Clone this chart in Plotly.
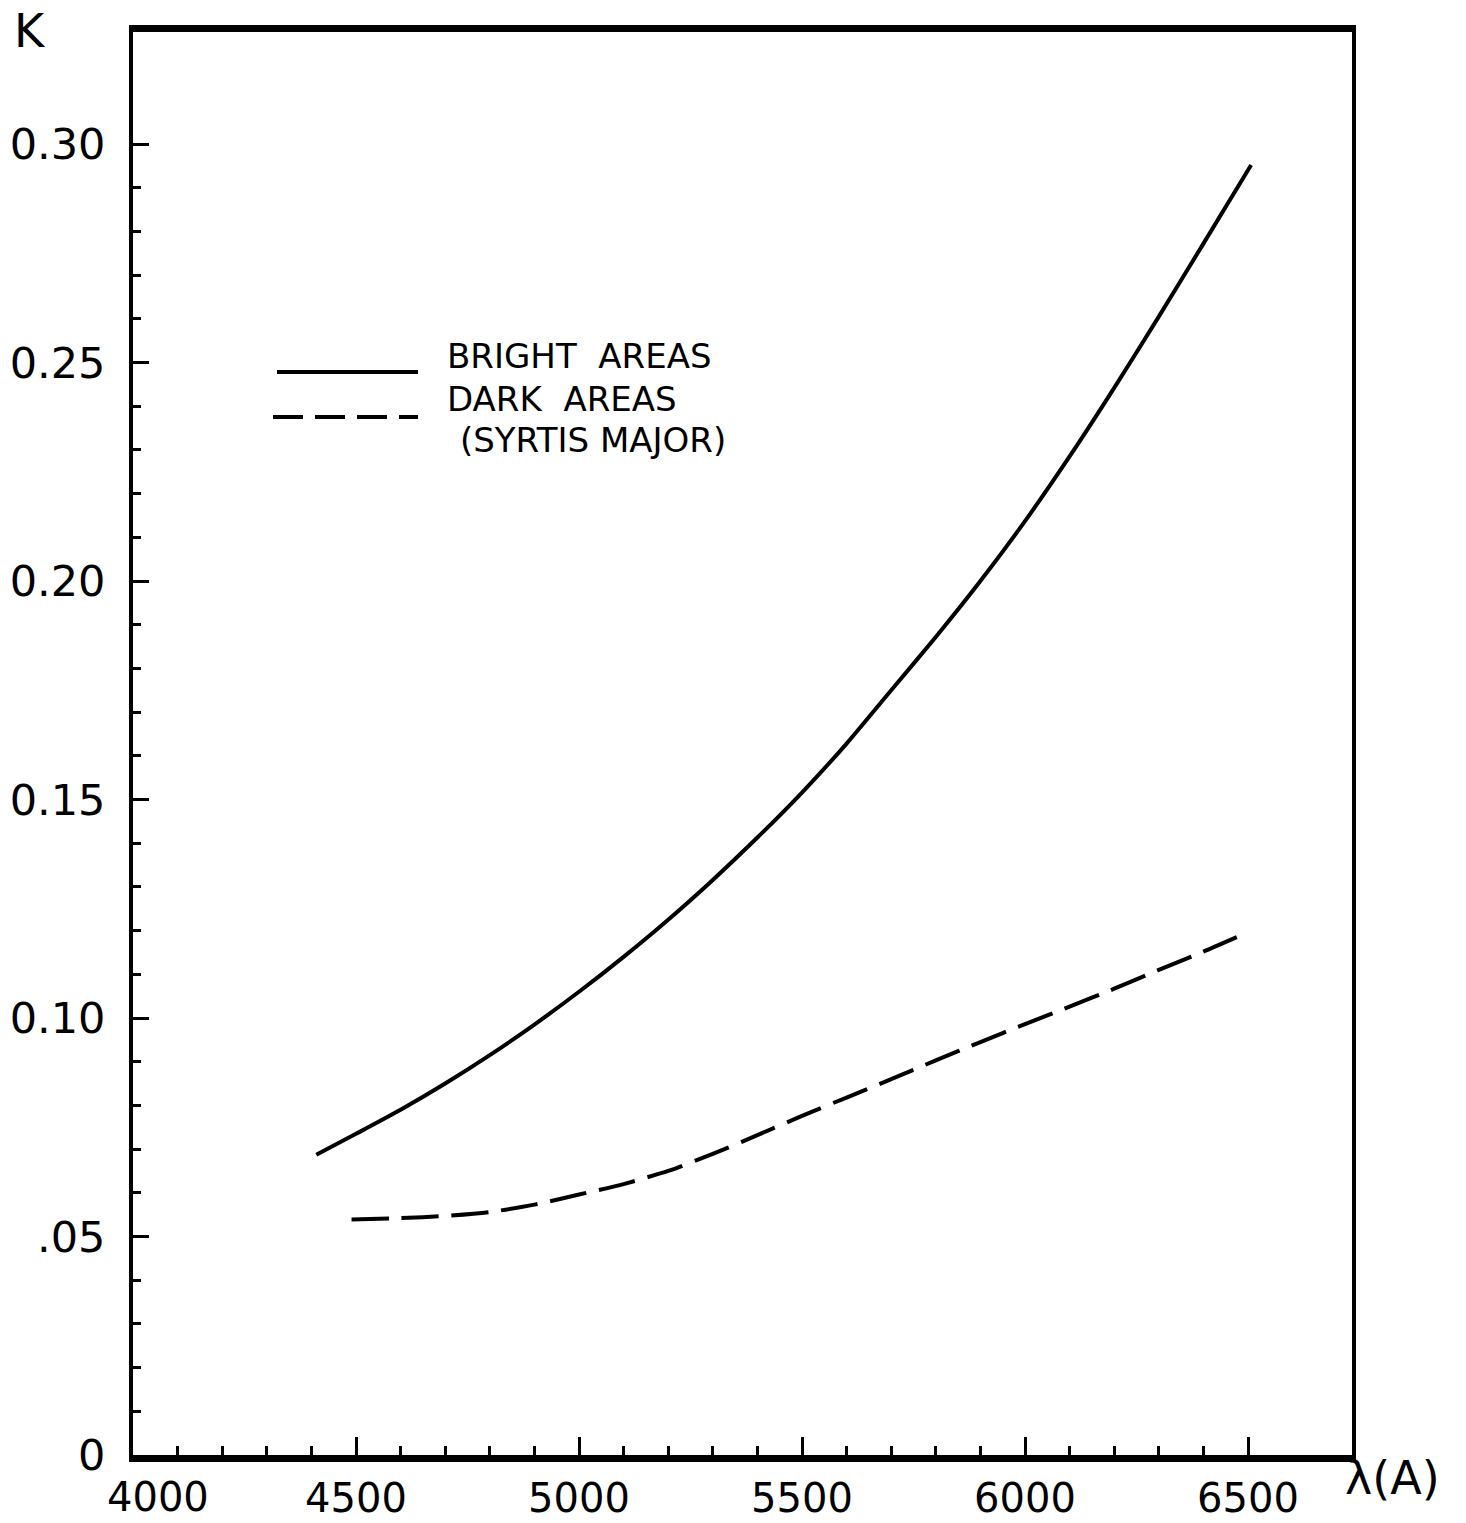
import plotly.graph_objects as go

# ---- data ----
bright_wavelength = [4411, 4500, 4600, 4700, 4800, 4900, 5000, 5100, 5200, 5300, 5400,
                     5500, 5600, 5700, 5800, 5900, 6000, 6100, 6200, 6300, 6400, 6507]
bright_k = [0.0687, 0.0735, 0.0790, 0.0850, 0.0915, 0.0985, 0.1060, 0.1140, 0.1225, 0.1316,
            0.1413, 0.1516, 0.1628, 0.1750, 0.1872, 0.2000, 0.2137, 0.2285, 0.2442, 0.2605,
            0.2772, 0.2952]

dark_wavelength = [4490, 4600, 4700, 4800, 4900, 5000, 5100, 5200, 5300, 5400, 5500,
                   5600, 5700, 5800, 5900, 6000, 6100, 6200, 6300, 6400, 6490]
dark_k = [0.0539, 0.0542, 0.0547, 0.0556, 0.0573, 0.0596, 0.0620, 0.0650, 0.0689, 0.0732,
          0.0776, 0.0818, 0.0860, 0.0903, 0.0945, 0.0986, 0.1026, 0.1067, 0.1110, 0.1152,
          0.1192]

x_tick_vals = [4000, 4500, 5000, 5500, 6000, 6500]
x_tick_text = ["4000", "4500", "5000", "5500", "6000", "6500"]
y_tick_vals = [0, 0.05, 0.10, 0.15, 0.20, 0.25, 0.30]
y_tick_text = ["0", ".05", "0.10", "0.15", "0.20", "0.25", "0.30"]
x_minor_vals = [v for v in range(4100, 6500, 100) if v % 500 != 0]
y_minor_vals = [round(i * 0.01, 2) for i in range(1, 30) if i % 5 != 0]

legend_labels = ["BRIGHT  AREAS", "DARK  AREAS", "(SYRTIS MAJOR)"]

W, H = 1466, 1523
ML, MR, MT, MB = 133, 114, 32, 68
PW, PH = W - ML - MR, H - MT - MB
FONT = "DejaVu Sans"


def px(x, y):
    """pixel position (from top-left) -> paper coordinates"""
    return (x - ML) / PW, 1 - (y - MT) / PH


fig = go.Figure()
fig.add_trace(go.Scatter(
    x=bright_wavelength, y=bright_k, mode="lines",
    line=dict(color="black", width=4, shape="spline", smoothing=0.6),
    showlegend=False, name="Bright areas"))
fig.add_trace(go.Scatter(
    x=dark_wavelength, y=dark_k, mode="lines",
    line=dict(color="black", width=4, shape="spline", smoothing=0.6, dash="37px,13px"),
    showlegend=False, name="Dark areas"))

# legend drawn by hand (long key lines as in the reference)
x0, y0 = px(277, 372)
x1, _ = px(418, 372)
fig.add_shape(type="line", xref="paper", yref="paper", x0=x0, x1=x1, y0=y0, y1=y0,
              line=dict(color="black", width=4))
x0, y0 = px(273, 417)
x1, _ = px(418, 417)
fig.add_shape(type="line", xref="paper", yref="paper", x0=x0, x1=x1, y0=y0, y1=y0,
              line=dict(color="black", width=4, dash="30px,12px"))

for (lx, ly), txt in zip([(445, 356), (445, 399), (458, 440)], legend_labels):
    ax, ay = px(lx, ly)
    fig.add_annotation(x=ax, y=ay, xref="paper", yref="paper", text=txt, showarrow=False,
                       xanchor="left", yanchor="middle",
                       font=dict(family=FONT, size=34, color="black"))

ax, ay = px(30, 31)
fig.add_annotation(x=ax, y=ay, xref="paper", yref="paper", text="K", showarrow=False,
                   xanchor="center", yanchor="middle", font=dict(family=FONT, size=46, color="black"))
ax, ay = px(1392, 1478)
fig.add_annotation(x=ax, y=ay, xref="paper", yref="paper", text="λ(A)", showarrow=False,
                   xanchor="center", yanchor="middle", font=dict(family=FONT, size=46, color="black"))

# first x tick label sits right of its tick in the reference
_, ay = px(0, 1497)
fig.add_annotation(x=x_tick_vals[0], y=ay, xref="x", yref="paper", text=x_tick_text[0],
                   showarrow=False, xanchor="center", yanchor="middle", xshift=25,
                   font=dict(family=FONT, size=40, color="black"))
x_tick_shown = [""] + x_tick_text[1:]

fig.update_layout(
    width=W, height=H,
    margin=dict(l=ML, r=MR, t=MT, b=MB, pad=0, autoexpand=False),
    paper_bgcolor="white", plot_bgcolor="white",
    font=dict(family=FONT, color="black"),
    xaxis=dict(range=[4000, 4000 + PW / 0.446], showgrid=False, zeroline=False,
               automargin=False,
               showline=True, linecolor="black", linewidth=7, mirror=True,
               tickmode="array", tickvals=x_tick_vals, ticktext=x_tick_shown,
               ticks="inside", ticklen=18, tickwidth=3, tickcolor="black",
               ticklabelstandoff=2,
               tickfont=dict(family=FONT, size=40, color="black"),
               minor=dict(tickmode="array", tickvals=x_minor_vals, ticks="inside",
                          ticklen=9, tickwidth=3, tickcolor="black", showgrid=False)),
    yaxis=dict(range=[0, PH / 4370], showgrid=False, zeroline=False,
               automargin=False,
               showline=True, linecolor="black", linewidth=4, mirror=True,
               tickmode="array", tickvals=y_tick_vals, ticktext=y_tick_text,
               ticks="inside", ticklen=16, tickwidth=3, tickcolor="black",
               ticklabelstandoff=15,
               tickfont=dict(family=FONT, size=43, color="black"),
               minor=dict(tickmode="array", tickvals=y_minor_vals, ticks="inside",
                          ticklen=8, tickwidth=3, tickcolor="black", showgrid=False)),
)

fig.write_html("out.html")
